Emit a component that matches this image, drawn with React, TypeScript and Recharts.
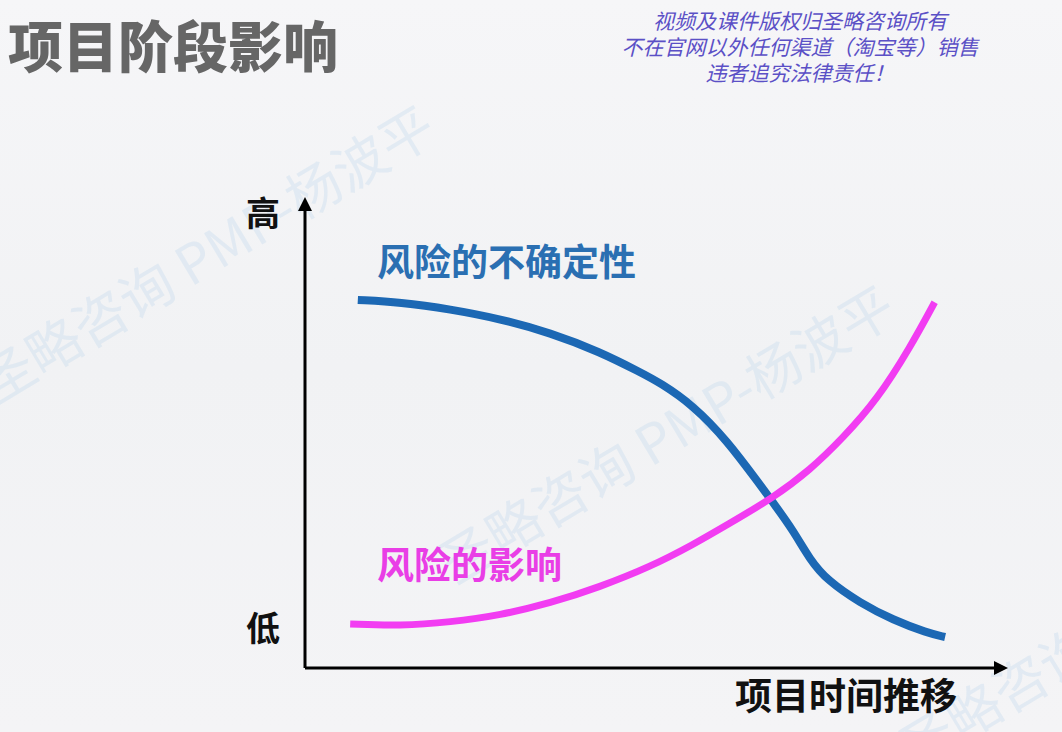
import React from "react";
import { LineChart, Line, XAxis, YAxis, ReferenceLine, ReferenceDot } from "recharts";

// 风险的不确定性 (blue), 0..100 scale
const uncertaintyX = [7.6, 13.7, 20.9, 28.1, 35.3, 42.4, 48.2, 51.1, 55.8, 60.7, 65.5, 67.6, 70.2, 72.7, 75.1, 79.9, 84.6, 89.5, 92.1];
const uncertaintyY = [79.5, 79.0, 77.5, 75.4, 72.4, 68.3, 63.9, 61.6, 56.8, 49.2, 39.5, 35.2, 29.8, 23.3, 19.0, 14.0, 10.4, 7.6, 6.7];

// 风险的影响 (magenta)
const impactX = [6.5, 13.7, 20.9, 28.1, 35.3, 42.4, 49.6, 55.8, 60.7, 67.3, 72.7, 77.4, 82.3, 87.1, 90.6];
const impactY = [9.5, 9.1, 9.9, 11.4, 14.0, 17.5, 21.8, 26.6, 30.9, 36.7, 42.8, 49.7, 57.9, 69.3, 79.0];

const titleText = "项目阶段影响";
const noticeLines = ["视频及课件版权归圣略咨询所有", "不在官网以外任何渠道（淘宝等）销售", "违者追究法律责任！"];
const yHigh = "高";
const yLow = "低";
const xAxisTitle = "项目时间推移";
const uncertaintyName = "风险的不确定性";
const impactName = "风险的影响";
const watermark = "圣略咨询 PMP-杨波平";

const uncertaintyData = uncertaintyX.map((x, i) => ({ x, y: uncertaintyY[i] }));
const impactData = impactX.map((x, i) => ({ x, y: impactY[i] }));

const cjk = '"Noto Sans CJK SC", "Noto Sans", sans-serif';

const ArrowRight = (props: any) => {
  const { cx, cy } = props;
  return <polygon points={`${cx - 6},${cy - 7} ${cx + 8},${cy} ${cx - 6},${cy + 7}`} fill="#000" />;
};

const ArrowUp = (props: any) => {
  const { cx, cy } = props;
  return <polygon points={`${cx - 7},${cy + 6} ${cx},${cy - 8} ${cx + 7},${cy + 6}`} fill="#000" />;
};

const text = (s: string, style: React.CSSProperties) => (
  <div style={{ position: "absolute", fontFamily: cjk, fontWeight: 700, whiteSpace: "nowrap", lineHeight: 1, ...style }}>{s}</div>
);

export default function App() {
  return (
    <div
      style={{
        position: "absolute",
        left: 0,
        top: 0,
        width: 1062,
        height: 732,
        overflow: "hidden",
        background: "linear-gradient(180deg, #f6f6f8 0%, #f1f2f4 50%, #f4f4f6 100%)",
      }}
    >
      <svg width={1062} height={732} style={{ position: "absolute", left: 0, top: 0 }}>
        <g fill="#b9d3ea" fillOpacity={0.3} fontFamily={cjk} fontSize={54}>
          <text transform="translate(-5,405) rotate(-31)">{watermark}</text>
          <text transform="translate(455,585) rotate(-31)">{watermark}</text>
          <text transform="translate(915,770) rotate(-31)">{watermark}</text>
        </g>
      </svg>

      {text(titleText, { left: 8, top: 16, fontSize: 55, color: "#666666", fontWeight: 900 })}

      <div
        style={{
          position: "absolute",
          left: 600,
          top: 7,
          width: 400,
          textAlign: "center",
          fontFamily: cjk,
          fontStyle: "italic",
          fontSize: 21,
          lineHeight: "26px",
          color: "#5b50c6",
        }}
      >
        {noticeLines.map((l) => (
          <div key={l}>{l}</div>
        ))}
      </div>

      <div style={{ position: "absolute", left: 0, top: 0 }}>
        <LineChart width={1062} height={732} margin={{ top: 205, right: 62, bottom: 64, left: 305 }}>
          <XAxis type="number" dataKey="x" domain={[0, 100]} hide />
          <YAxis type="number" dataKey="y" domain={[0, 100]} hide />
          <ReferenceLine x={0} stroke="#000" strokeWidth={3} />
          <ReferenceLine y={0} stroke="#000" strokeWidth={3} />
          <ReferenceDot x={100} y={0} r={0} ifOverflow="visible" shape={ArrowRight} />
          <ReferenceDot x={0} y={100} r={0} ifOverflow="visible" shape={ArrowUp} />
          <Line
            data={uncertaintyData}
            dataKey="y"
            name={uncertaintyName}
            type="basis"
            stroke="#1c68b4"
            strokeWidth={8}
            dot={false}
            isAnimationActive={false}
          />
          <Line
            data={impactData}
            dataKey="y"
            name={impactName}
            type="basis"
            stroke="#f23cf2"
            strokeWidth={7}
            dot={false}
            isAnimationActive={false}
          />
        </LineChart>
      </div>

      {text(yHigh, { left: 246, top: 195, fontSize: 34, color: "#111" })}
      {text(yLow, { left: 246, top: 610, fontSize: 34, color: "#111" })}
      {text(xAxisTitle, { left: 735, top: 676, fontSize: 37, color: "#111" })}
      {text(uncertaintyName, { left: 377, top: 242, fontSize: 37, color: "#2a6fb2" })}
      {text(impactName, { left: 377, top: 545, fontSize: 37, color: "#e93ee6" })}
    </div>
  );
}
